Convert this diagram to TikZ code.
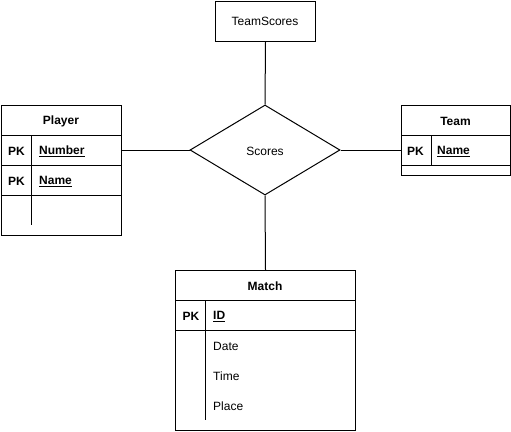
\documentclass[tikz,border=0pt]{standalone}
\usepackage{fontspec}
\setmainfont{Liberation Sans}
\usetikzlibrary{shapes.geometric}
\begin{document}
\begin{tikzpicture}[x=1pt,y=-1pt,
  every node/.style={font=\fontsize{12}{14}\selectfont, text=black},
  ent/.style={draw, line width=1pt, rectangle, inner sep=0pt, anchor=north west},
  conn/.style={draw, line width=1pt},
  hdr/.style={font=\fontsize{12}{14}\selectfont\bfseries},
  key/.style={font=\fontsize{12}{14}\selectfont\bfseries, anchor=west, inner sep=0pt},
  attr/.style={anchor=west, inner sep=0pt},
  rel/.style={draw, line width=1pt, diamond, aspect=1.667, minimum width=150pt, minimum height=90pt, inner sep=0pt}
]
\useasboundingbox (0,0) rectangle (511,431);

% TeamScores
\node[ent, minimum width=100pt, minimum height=40pt] (ts) at (215,1) {};
\node (tstext) at (265,21.5) {TeamScores};

% Scores diamond
\node[rel] (scores) at (265,150) {};
\node (scorestext) at (265,151) {Scores};

% Player
\node[ent, minimum width=120pt, minimum height=130pt] (player) at (1,105) {};
\coordinate (pl1) at (1,135.5);
\coordinate (pr1) at (121,135.5);
\coordinate (pl2) at (1,165.5);
\coordinate (pr2) at (121,165.5);
\coordinate (pl3) at (1,195.5);
\coordinate (pr3) at (121,195.5);
\coordinate (pv1) at (31,135.5);
\coordinate (pv2) at (31,225);
\draw[line width=1pt] (pl1) -- (pr1) (pl2) -- (pr2) (pl3) -- (pr3) (pv1) -- (pv2);
\node[hdr] (ph) at (61,121.5) {Player};
\node[key, anchor=center] (ppk1) at (16.5,151.5) {PK};
\node[key] (pnum) at (39,151.5) {\underline{Number}};
\node[key, anchor=center] (ppk2) at (16.5,181.5) {PK};
\node[key] (pname) at (39,181.5) {\underline{Name}};

% Team
\node[ent, minimum width=109pt, minimum height=70pt] (team) at (401,105) {};
\coordinate (tl1) at (401,135.5);
\coordinate (tr1) at (510,135.5);
\coordinate (tl2) at (401,165.5);
\coordinate (tr2) at (510,165.5);
\coordinate (tv1) at (431,135.5);
\coordinate (tv2) at (431,165.5);
\draw[line width=1pt] (tl1) -- (tr1) (tl2) -- (tr2) (tv1) -- (tv2);
\node[hdr] (th) at (455.5,121.5) {Team};
\node[key, anchor=center] (tpk) at (415.5,151.5) {PK};
\node[key] (tname) at (437,151.5) {\underline{Name}};

% Match
\node[ent, minimum width=180pt, minimum height=160pt] (match) at (175,270) {};
\coordinate (ml1) at (175,300);
\coordinate (mr1) at (355,300);
\coordinate (ml2) at (175,330);
\coordinate (mr2) at (355,330);
\coordinate (mv1) at (205,300);
\coordinate (mv2) at (205,420);
\draw[line width=1pt] (ml1) -- (mr1) (ml2) -- (mr2) (mv1) -- (mv2);
\node[hdr] (mh) at (265,286.5) {Match};
\node[key, anchor=center] (mpk) at (191,316.5) {PK};
\node[key] (mid) at (213,316.5) {\underline{ID}};
\node[attr] (mdate) at (213,346.5) {Date};
\node[attr] (mtime) at (213,376.5) {Time};
\node[attr] (mplace) at (213,406.5) {Place};

% Connectors
\draw[conn] (ts.south) -- (scores.north);
\draw[conn] (player.east |- scores.west) -- (scores.west);
\draw[conn] (scores.east) -- (team.west |- scores.east);
\draw[conn] (scores.south) -- (match.north);
\end{tikzpicture}
\end{document}
